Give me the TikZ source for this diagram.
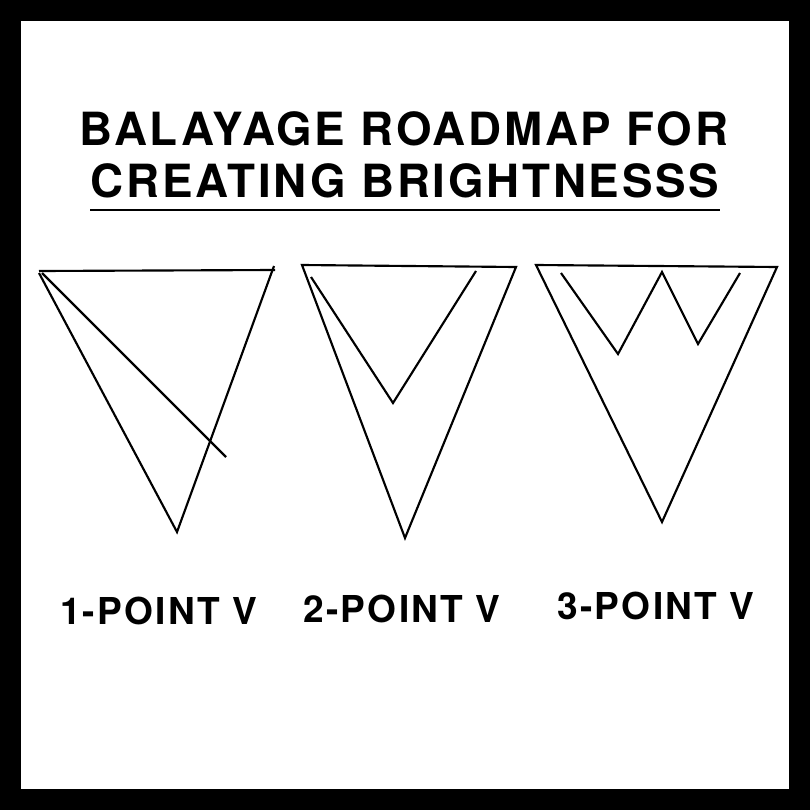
\documentclass[tikz,border=0pt]{standalone}
\usepackage{fontspec}
\setmainfont{TeX Gyre Heros}
\newfontfamily\titlefont[LetterSpace=6]{TeX Gyre Heros}
\begin{document}
\begin{tikzpicture}[x=0.75pt,y=-0.75pt,
  stroke/.style={line width=1.6pt,line join=miter,line cap=butt},
  title/.style={font=\titlefont\bfseries\fontsize{34.3}{34}\selectfont,anchor=base,inner sep=0pt},
  label/.style={font=\titlefont\bfseries\fontsize{27.8}{28}\selectfont,anchor=base,inner sep=0pt}]
\useasboundingbox (0,0) rectangle (810,810);
\fill[black] (0,0) rectangle (810,810);
\fill[white] (21,21) rectangle (789,789);
% title
\node[title] (t1) at (404,145) {BALAYAGE ROADMAP FOR};
\node[title] (t2) at (405,197) {CREATING BRIGHTNESSS};
\draw[line width=1.5pt] (90,210) -- (720,210);
% triangle 1
\draw[stroke] (39,271) -- (275,270);
\draw[stroke] (274,266) -- (177,532) -- (39,273);
\draw[stroke] (42,273) -- (226,457);
% triangle 2
\draw[stroke] (516,267) -- (302,265) -- (405,538) -- cycle;
\draw[stroke] (311,277) -- (393,403) -- (476,271);
% triangle 3
\draw[stroke] (777,267) -- (536,265) -- (662,522) -- cycle;
\draw[stroke] (561,273) -- (618,354) -- (662,272) -- (698,344) -- (740,273);
% labels
\node[label] (l1) at (158.5,624) {1-POINT V};
\node[label] (l2) at (402,622) {2-POINT V};
\node[label] (l3) at (656,619) {3-POINT V};
\end{tikzpicture}
\end{document}
